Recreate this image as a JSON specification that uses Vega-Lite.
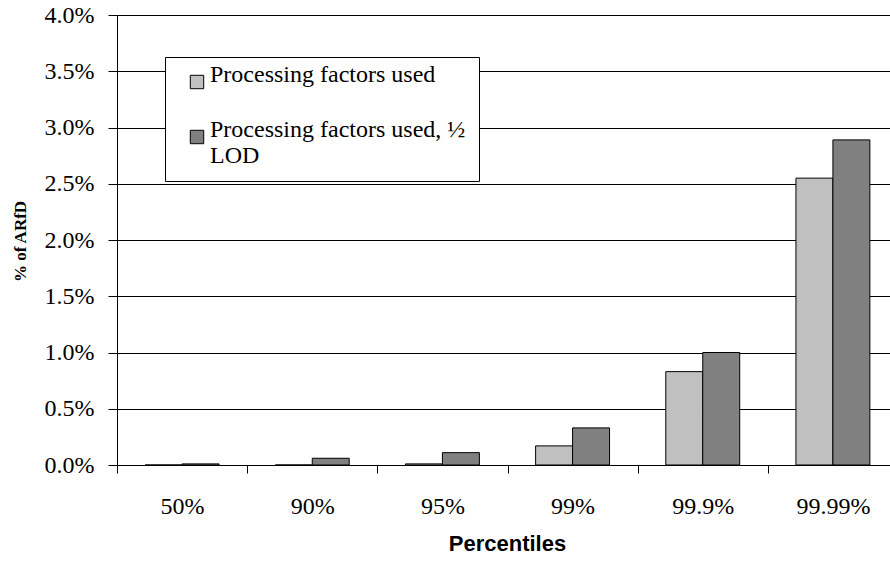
{
  "$schema": "https://vega.github.io/schema/vega-lite/v6.json",
  "autosize": {"type": "none"},
  "width": 773,
  "height": 450,
  "padding": {"left": 117, "top": 15, "right": 0, "bottom": 98},
  "background": "white",
  "config": {"view": {"stroke": null}},
  "data": {"values": [
    {"p": "50%", "s": "Processing factors used", "v": 0.0},
    {"p": "50%", "s": "Processing factors used, ½ LOD", "v": 0.0001},
    {"p": "90%", "s": "Processing factors used", "v": 0.0},
    {"p": "90%", "s": "Processing factors used, ½ LOD", "v": 0.0006},
    {"p": "95%", "s": "Processing factors used", "v": 0.0001},
    {"p": "95%", "s": "Processing factors used, ½ LOD", "v": 0.0011},
    {"p": "99%", "s": "Processing factors used", "v": 0.0017},
    {"p": "99%", "s": "Processing factors used, ½ LOD", "v": 0.0033},
    {"p": "99.9%", "s": "Processing factors used", "v": 0.0083},
    {"p": "99.9%", "s": "Processing factors used, ½ LOD", "v": 0.010},
    {"p": "99.99%", "s": "Processing factors used", "v": 0.0255},
    {"p": "99.99%", "s": "Processing factors used, ½ LOD", "v": 0.0289}
  ]},
  "mark": {"type": "bar", "stroke": "black", "strokeWidth": 1},
  "encoding": {
    "x": {
      "field": "p", "type": "nominal", "sort": null,
      "scale": {"range": [0, 781], "paddingInner": 0.432, "paddingOuter": 0.216},
      "axis": {
        "title": "Percentiles", "labelAngle": 0,
        "domainColor": "black", "tickColor": "black", "tickSize": 8,
        "tickOffset": -65, "labelOffset": 65, "labelPadding": 21,
        "labelFont": "Liberation Serif", "labelFontSize": 24, "labelColor": "black",
        "titleFont": "Liberation Sans", "titleFontSize": 22, "titleFontWeight": "bold", "titleColor": "black",
        "titleX": 390, "titleY": 78, "titleBaseline": "middle"
      }
    },
    "xOffset": {"field": "s", "type": "nominal", "sort": null, "scale": {"paddingInner": 0, "paddingOuter": 0}},
    "y": {
      "field": "v", "type": "quantitative",
      "scale": {"domain": [0, 0.04], "nice": false},
      "axis": {
        "title": "% of ARfD", "format": ".1%", "values": [0, 0.005, 0.01, 0.015, 0.02, 0.025, 0.03, 0.035, 0.04],
        "grid": true, "gridColor": "black", "gridOpacity": 1, "gridWidth": 1,
        "domainColor": "black", "tickColor": "black", "tickSize": 9, "labelPadding": 14,
        "labelFont": "Liberation Serif", "labelFontSize": 24, "labelColor": "black",
        "titleFont": "Liberation Serif", "titleFontSize": 17, "titleFontWeight": "bold", "titleColor": "black",
        "titleX": -97, "titleY": 226, "titleAngle": -90, "titleAlign": "center", "titleBaseline": "middle"
      }
    },
    "fill": {
      "field": "s", "type": "nominal", "sort": null,
      "scale": {"range": ["#C0C0C0", "#808080"]},
      "legend": {
        "title": null, "orient": "none", "legendX": 48, "legendY": 42,
        "fillColor": "white", "strokeColor": "black", "padding": 13,
        "symbolType": "square", "symbolSize": 180, "symbolOffset": 7, "symbolStrokeColor": "black", "symbolStrokeWidth": 1,
        "labelFont": "Liberation Serif", "labelFontSize": 24, "labelColor": "black", "labelLimit": 500,
        "labelBaseline": "alphabetic", "labelOffset": 1, "rowPadding": 27,
        "labelExpr": "datum.label == 'Processing factors used, ½ LOD' ? ['Processing factors used, ½\u00a0\u00a0', 'LOD'] : datum.label"
      }
    }
  }
}
